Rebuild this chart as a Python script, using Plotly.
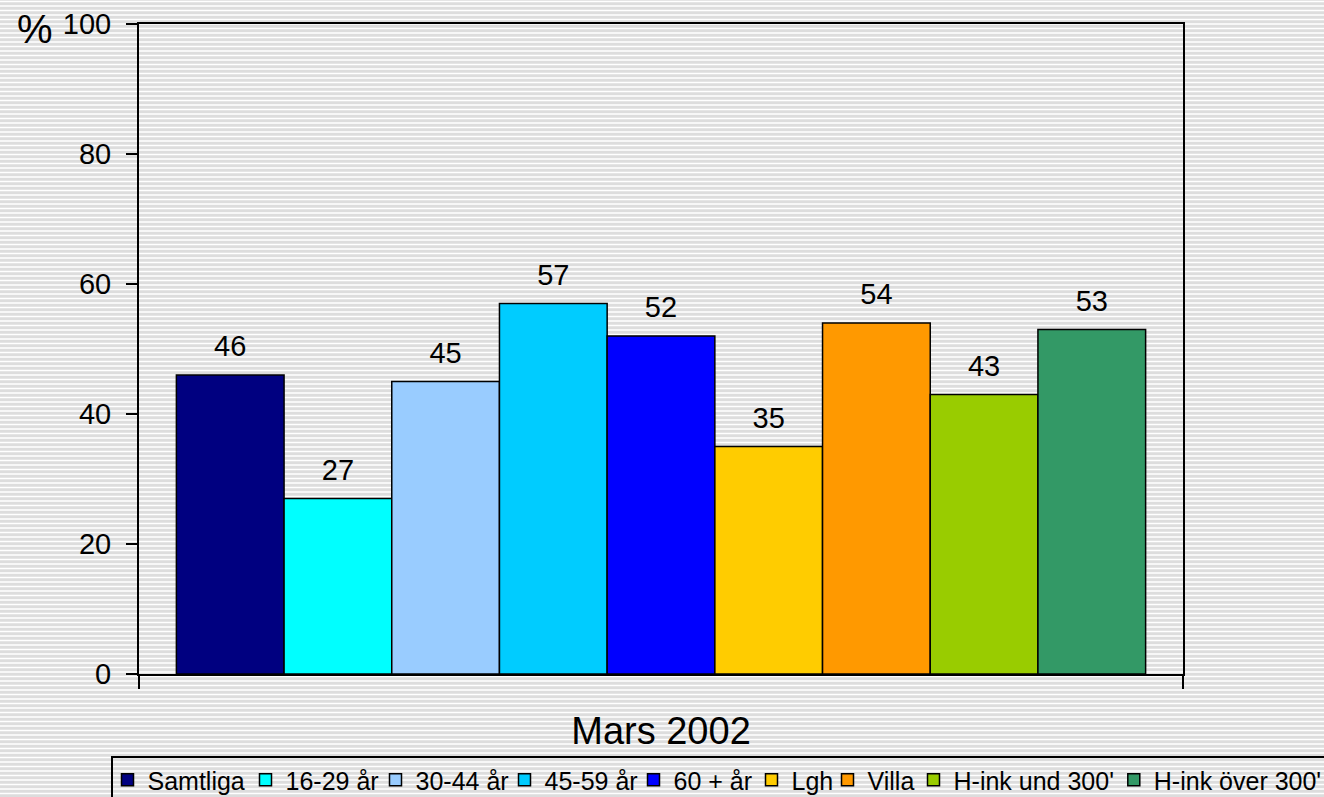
import numpy as np
import plotly.graph_objects as go

# data
period = ["Mars 2002"]
groups = ["Samtliga", "16-29 år", "30-44 år", "45-59 år", "60 + år",
          "Lgh", "Villa", "H-ink und 300'", "H-ink över 300'"]
values = [46, 27, 45, 57, 52, 35, 54, 43, 53]
colors = ["#000080", "#00FFFF", "#99CCFF", "#00CCFF", "#0000FF",
          "#FFCC00", "#FF9900", "#99CC00", "#339966"]
y_ticks = [0, 20, 40, 60, 80, 100]

# legend entry widths (px) so the row spacing matches the original
entry_widths = [93, 85, 84, 84, 73, 31, 41, None, None]

FONT = "Liberation Sans, Arial, sans-serif"
W, H = 1324, 797
L, R, T, B = 139, 1183, 24, 674


def px_x(px):
    return (px - L) / (R - L)


def px_y(py):
    return (B - py) / (B - T)


fig = go.Figure()

for i, (name, val, col) in enumerate(zip(groups, values, colors)):
    kw = {}
    if entry_widths[i]:
        kw["legendwidth"] = entry_widths[i]
    fig.add_trace(go.Bar(
        x=period, y=[val], name=name,
        marker=dict(color=col, line=dict(color="black", width=1.5)),
        legend="legend2" if i == len(groups) - 1 else "legend",
        **kw
    ))

# value labels, grouped the same way as the bars
for name, val in zip(groups, values):
    fig.add_trace(go.Scatter(
        x=period, y=[val], mode="markers+text", text=[str(val)],
        textposition="top center",
        textfont=dict(family=FONT, size=29, color="black"),
        marker=dict(size=17, opacity=0),
        showlegend=False, hoverinfo="skip", cliponaxis=False
    ))

# striped background like the original fill pattern
stripes = "".join(f"M{px_x(-20):.5f},{px_y(y):.5f}H{px_x(W + 20):.5f}"
                  for y in np.arange(1.5, H + 5, 4.5))
shapes = [
    dict(type="path", xref="paper", yref="paper", path=stripes,
         line=dict(color="white", width=1.5), layer="below"),
    # legend frame
    dict(type="rect", xref="paper", yref="paper",
         x0=px_x(112), x1=px_x(W + 10), y0=px_y(757), y1=px_y(H + 10),
         line=dict(color="black", width=2), layer="above"),
]

legend_common = dict(orientation="h", bgcolor="rgba(0,0,0,0)", borderwidth=0,
                     font=dict(family=FONT, size=25, color="black"),
                     yanchor="top", xanchor="left", itemwidth=30)

fig.update_layout(
    width=W, height=H,
    margin=dict(l=L, r=W - R, t=T, b=H - B, autoexpand=False),
    paper_bgcolor="#DDDDDD",
    plot_bgcolor="rgba(0,0,0,0)",
    barmode="group", bargap=0.0716, bargroupgap=0,
    scattermode="group",
    font=dict(family=FONT, color="black"),
    shapes=shapes,
    legend=dict(x=px_x(107.5), y=px_y(757), **legend_common),
    legend2=dict(x=px_x(1113.8), y=px_y(757), **legend_common),
    annotations=[dict(text="%", xref="paper", yref="paper",
                      x=px_x(35), y=px_y(29), xanchor="center", yanchor="middle",
                      showarrow=False, font=dict(family=FONT, size=40, color="black"))],
)

fig.update_xaxes(
    type="category", tickson="boundaries", ticks="outside", ticklen=13, tickwidth=2,
    tickcolor="black", showline=True, linecolor="black", linewidth=2, mirror=True,
    showgrid=False, tickfont=dict(family=FONT, size=38, color="black"),
    ticklabelstandoff=22,
)
fig.update_yaxes(
    range=[0, 100], tickvals=y_ticks, ticks="outside", ticklen=11, tickwidth=2,
    tickcolor="black", showline=True, linecolor="black", linewidth=2, mirror=True,
    showgrid=False, zeroline=False, tickfont=dict(family=FONT, size=29, color="black"),
    ticklabelstandoff=9,
)

fig.write_html("out.html", config={"displayModeBar": False},
               post_script="document.body.style.margin = '0';")
